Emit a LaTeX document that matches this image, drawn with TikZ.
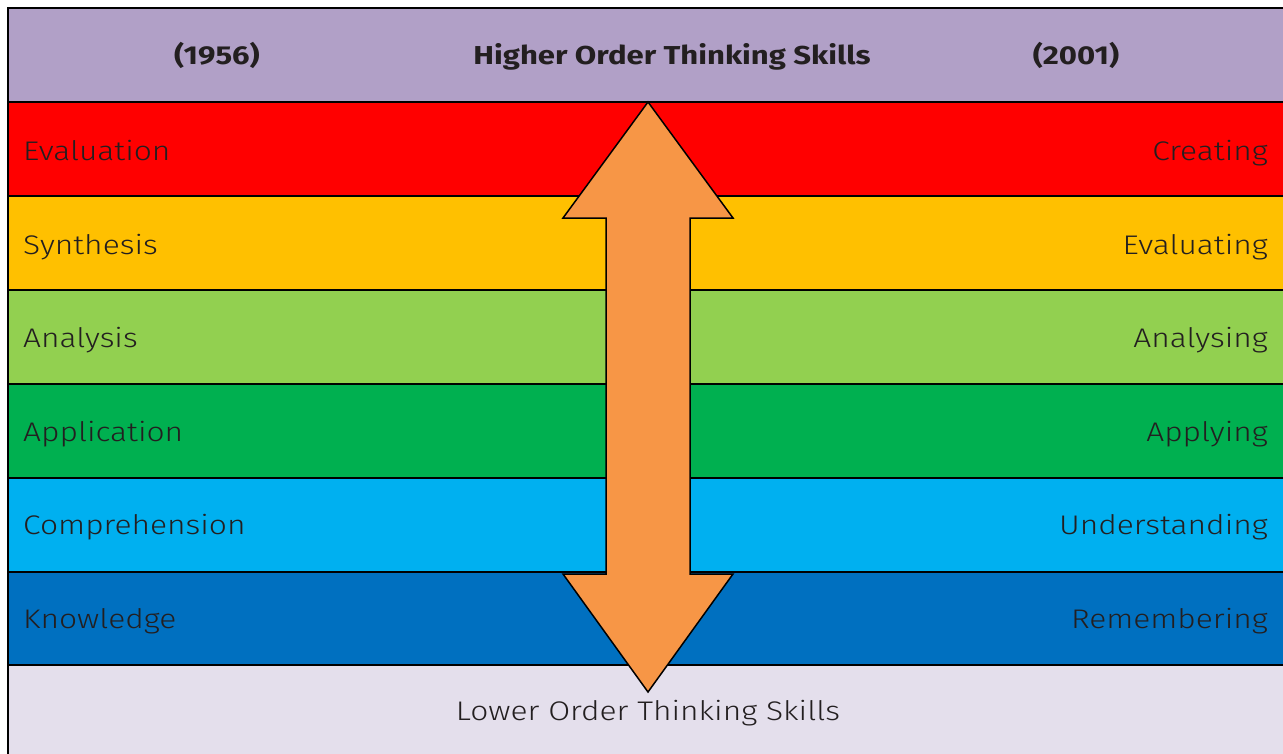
\documentclass[tikz,border=0pt]{standalone}
\usepackage{fontspec}
\setmainfont{Fira Sans Light}[FakeStretch=1.18]
\newfontfamily\headfont{Fira Sans}[FakeStretch=1.2]
\definecolor{topband}{HTML}{B1A0C7}
\definecolor{rowA}{HTML}{FF0000}
\definecolor{rowB}{HTML}{FFC000}
\definecolor{rowC}{HTML}{92D050}
\definecolor{rowD}{HTML}{00B050}
\definecolor{rowE}{HTML}{00B0F0}
\definecolor{rowF}{HTML}{0070C0}
\definecolor{botband}{HTML}{E4DFEC}
\definecolor{arrowfill}{HTML}{F79646}
\definecolor{txt}{HTML}{231F20}
\begin{document}
\begin{tikzpicture}[x=1bp,y=-1bp,
  band/.style={draw=black,line width=1.5bp},
  lefttxt/.style={anchor=base west,text=txt,font=\fontsize{27}{30}\selectfont,inner sep=0pt},
  righttxt/.style={anchor=base east,text=txt,font=\fontsize{27}{30}\selectfont,inner sep=0pt},
  headtxt/.style={anchor=base,text=txt,font=\headfont\bfseries\fontsize{26}{30}\selectfont,inner sep=0pt}]
\useasboundingbox (0,0) rectangle (1283,754);
\fill[white] (0,0) rectangle (1283,754);
% bands
\filldraw[band,fill=topband] (8,8) rectangle (1290,102);
\filldraw[band,fill=rowA] (8,102) rectangle (1290,196);
\filldraw[band,fill=rowB] (8,196) rectangle (1290,290);
\filldraw[band,fill=rowC] (8,290) rectangle (1290,384);
\filldraw[band,fill=rowD] (8,384) rectangle (1290,478);
\filldraw[band,fill=rowE] (8,478) rectangle (1290,572);
\filldraw[band,fill=rowF] (8,572) rectangle (1290,665);
\filldraw[band,fill=botband,line width=2bp] (8,665) rectangle (1290,760);
% header
\node[headtxt] (y1) at (217,65) {(1956)};
\node[headtxt] (hots) at (672,65) {Higher Order Thinking Skills};
\node[headtxt] (y2) at (1076,65) {(2001)};
% labels
\node[lefttxt] (l1) at (23,160) {Evaluation};
\node[lefttxt] (l2) at (23,254) {Synthesis};
\node[lefttxt] (l3) at (23,347) {Analysis};
\node[lefttxt] (l4) at (23,441) {Application};
\node[lefttxt] (l5) at (23,534) {Comprehension};
\node[lefttxt] (l6) at (23,628) {Knowledge};
\node[righttxt] (r1) at (1268,160) {Creating};
\node[righttxt] (r2) at (1268,254) {Evaluating};
\node[righttxt] (r3) at (1268,347) {Analysing};
\node[righttxt] (r4) at (1268,441) {Applying};
\node[righttxt] (r5) at (1268,534) {Understanding};
\node[righttxt] (r6) at (1268,628) {Remembering};
\node[lefttxt,anchor=base] (lots) at (648,720) {Lower Order Thinking Skills};
% double arrow
\filldraw[fill=arrowfill,draw=black,line width=1.5bp,line join=miter]
  (648,102) -- (733,218) -- (690,218) -- (690,574) -- (733,574) -- (648,692)
  -- (563,574) -- (606,574) -- (606,218) -- (563,218) -- cycle;
\end{tikzpicture}
\end{document}
